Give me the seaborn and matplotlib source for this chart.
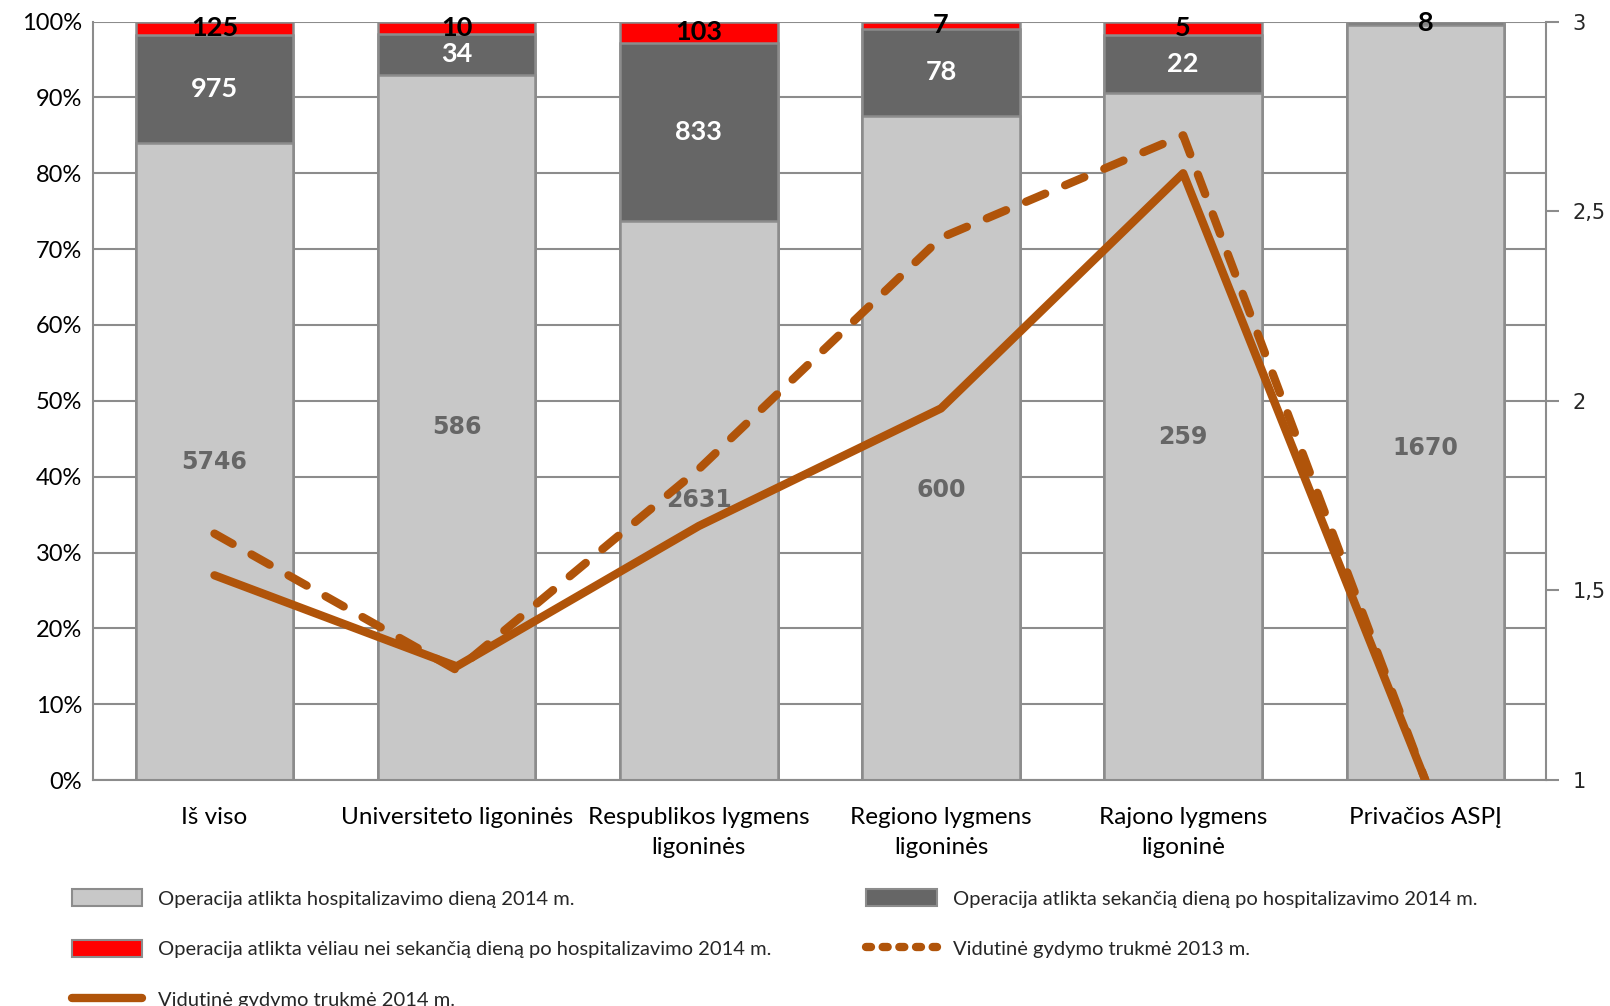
import matplotlib
matplotlib.use("Agg")
import matplotlib.pyplot as plt
import numpy as np
import pandas as pd
import seaborn as sns
from matplotlib.lines import Line2D
from matplotlib.patches import Patch
from matplotlib.ticker import FixedLocator, FuncFormatter

categories = ["Iš viso", "Universiteto ligoninės", "Respublikos lygmens\nligoninės",
              "Regiono lygmens\nligoninės", "Rajono lygmens\nligoninė", "Privačios ASPĮ"]
same_day = [5746, 586, 2631, 600, 259, 1670]
next_day = [975, 34, 833, 78, 22, 8]
later = [125, 10, 103, 7, 5, 0]
duration_2013 = [1.65, 1.29, 1.82, 2.43, 2.70, 1.0]
duration_2014 = [1.54, 1.30, 1.67, 1.98, 2.60, 1.0]

legend_labels = [
    "Operacija atlikta hospitalizavimo dieną 2014 m.",
    "Operacija atlikta sekančią dieną po hospitalizavimo 2014 m.",
    "Operacija atlikta vėliau nei sekančią dieną po hospitalizavimo 2014 m.",
    "Vidutinė gydymo trukmė 2013 m.",
    "Vidutinė gydymo trukmė 2014 m.",
]

LIGHT, DARK, RED, BROWN = "#c8c8c8", "#666666", "#ff0000", "#b0540a"
EDGE = "#8c8c8c"

sns.set_theme(style="white")
plt.rcParams["font.family"] = ["Lato", "DejaVu Sans"]

totals = np.array(same_day) + np.array(next_day) + np.array(later)
p_light = np.array(same_day) / totals
p_dark = np.array(next_day) / totals
p_red = np.array(later) / totals
df = pd.DataFrame({
    "cat": categories,
    "light": p_light,
    "dark": p_light + p_dark,
    "red": p_light + p_dark + p_red,
})

fig = plt.figure(figsize=(16.1, 10.06), dpi=100)
ax = fig.add_axes([0.058, 0.2245, 0.9025, 0.7541])

for col, color in [("red", RED), ("dark", DARK), ("light", LIGHT)]:
    sns.barplot(data=df, x="cat", y=col, color=color, saturation=1, width=0.65,
                edgecolor=EDGE, linewidth=1.8, ax=ax)

ax.set_xlim(-0.5, len(categories) - 0.5)
ax.set_ylim(0, 1)
ax.yaxis.set_major_locator(FixedLocator(np.arange(0, 1.01, 0.1)))
ax.yaxis.set_major_formatter(FuncFormatter(lambda v, _: f"{v * 100:.0f}%"))
ax.grid(axis="y", color=EDGE, linewidth=1.5)
ax.set_axisbelow(True)
ax.set_xlabel("")
ax.set_ylabel("")
for s in ["top", "right"]:
    ax.spines[s].set_visible(False)
for s in ["left", "bottom"]:
    ax.spines[s].set_color(EDGE)
    ax.spines[s].set_linewidth(1.5)
ax.tick_params(axis="y", length=0, labelsize=17, pad=8, colors="black")
ax.tick_params(axis="x", length=0, labelsize=17.5, pad=19, colors="black")
for lab in ax.get_xticklabels():
    lab.set_linespacing(1.55)

# segment labels
light_shift = [0, 0, 0, -0.055, 0, -0.06]
for i in range(len(categories)):
    ax.text(i, p_light[i] / 2 + light_shift[i], str(same_day[i]), ha="center", va="center",
            fontsize=17, fontweight="bold", color="#666666", family="DejaVu Sans")
    if next_day[i]:
        small = p_dark[i] < 0.02
        ax.text(i, p_light[i] + p_dark[i] / 2, str(next_day[i]), ha="center",
                va="center", fontsize=19.5, fontweight="bold",
                color="black" if small else "white")
    if later[i]:
        ax.text(i, p_light[i] + p_dark[i] + p_red[i] / 2, str(later[i]), ha="center",
                va="center", fontsize=19.5, fontweight="bold", color="black")

ax2 = ax.twinx()
x = np.arange(len(categories))
sns.lineplot(x=x, y=duration_2013, color=BROWN, linewidth=6, ax=ax2,
             linestyle=(0, (2.5, 2.6)), dash_capstyle="round", solid_capstyle="round")
sns.lineplot(x=x, y=duration_2014, color=BROWN, linewidth=6, ax=ax2,
             solid_capstyle="round")
ax2.set_ylim(1, 3)
ax2.yaxis.set_major_locator(FixedLocator([1, 1.5, 2, 2.5, 3]))
ax2.yaxis.set_major_formatter(FuncFormatter(lambda v, _: f"{v:g}".replace(".", ",")))
ax2.tick_params(axis="y", length=9, width=1.5, color=EDGE, labelsize=15, pad=10)
for lab in ax2.get_yticklabels():
    lab.set_family("DejaVu Sans")
ax2.set_ylabel("")
for s in ["top", "left", "bottom"]:
    ax2.spines[s].set_visible(False)
ax2.spines["right"].set_color(EDGE)
ax2.spines["right"].set_linewidth(1.5)

handles = [
    Patch(facecolor=LIGHT, edgecolor=EDGE, linewidth=1.5),
    Patch(facecolor=RED, edgecolor=EDGE, linewidth=1.5),
    Line2D([], [], color=BROWN, linewidth=6, solid_capstyle="round"),
    Patch(facecolor=DARK, edgecolor=EDGE, linewidth=1.5),
    Line2D([], [], color=BROWN, linewidth=6, linestyle=(0, (0.6, 1.4)),
           dash_capstyle="round"),
]
labels = [legend_labels[0], legend_labels[2], legend_labels[4],
          legend_labels[1], legend_labels[3]]
fig.legend(handles, labels, loc="upper left", bbox_to_anchor=(0.0395, 0.124),
           ncol=2, frameon=False, fontsize=14.5, handlelength=3.5, handleheight=0.9,
           handletextpad=0.8, labelspacing=1.6, columnspacing=4.7,
           borderaxespad=0, bbox_transform=fig.transFigure)

fig.savefig("out.png", dpi=100)
